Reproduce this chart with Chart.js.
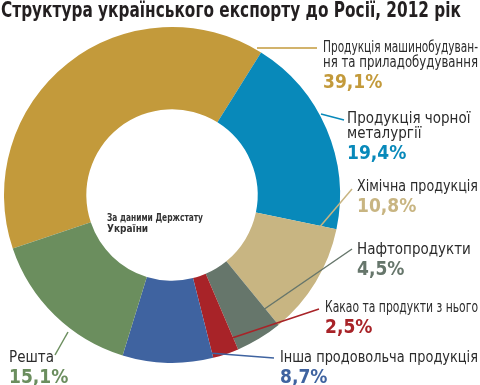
<!DOCTYPE html>
<html lang="uk">
<head>
<meta charset="utf-8">
<title>Структура українського експорту до Росії, 2012 рік</title>
<script src="https://cdn.jsdelivr.net/npm/chart.js@4.4.1/dist/chart.umd.min.js"></script>
<style>
  html, body { margin: 0; padding: 0; background: #fff; }
  #wrap { position: relative; width: 480px; height: 385px; }
</style>
</head>
<body>
<div id="wrap"><canvas id="exportChart" width="480" height="385"></canvas></div>
<script>
// Дані: структура експорту, %
const categories = [
    ['Продукція машинобудуван-', 'ня та приладобудування'],
    ['Продукція чорної', 'металургії'],
    ['Хімічна продукція'],
    ['Нафтопродукти'],
    ['Какао та продукти з нього'],
    ['Інша продовольча продукція'],
    ['Решта']
];
const shares = [39.1, 19.4, 10.8, 4.5, 2.5, 8.7, 15.1];

const colors = ['#c39a3b', '#0889ba', '#c8b582', '#66766b', '#a82328', '#3f63a0', '#6b8e5e'];

// where the labels and leader lines go
const labelSpots = [
    { x: 323, y: 48, line: [[257, 48], [317, 48]] },
    { x: 347, y: 119, line: [[321, 114], [344, 120]] },
    { x: 357, y: 187, line: [[318, 229], [352, 189]] },
    { x: 357, y: 250, line: [[263, 310], [352, 249]] },
    { x: 325, y: 308, line: [[232, 338], [319, 309]] },
    { x: 280, y: 358, line: [[209, 353], [274, 358]] },
    { x: 9, y: 358, line: [[68, 332], [55, 355]] }
];

const narrow = '"Liberation Sans Narrow", "DejaVu Sans Condensed", "Noto Sans", sans-serif';

function pct(v) {
    return v.toFixed(1).replace('.', ',') + '%';
}

const labelsPlugin = {
    id: 'labelsPlugin',
    afterDraw(chart) {
        const ctx = chart.ctx;
        ctx.save();

        // title
        ctx.fillStyle = '#231f20';
        ctx.textBaseline = 'middle';
        ctx.textAlign = 'left';
        ctx.font = 'bold 22px ' + narrow;
        ctx.fillText('Структура українського експорту до Росії, 2012 рік', 1, 11, 460);

        // note in the hole
        ctx.font = 'bold 10px ' + narrow;
        ctx.fillStyle = '#333';
        ctx.fillText('За даними Держстату', 107, 218, 96);
        ctx.fillText('України', 107, 229);

        categories.forEach((lines, i) => {
            const s = labelSpots[i];
            ctx.strokeStyle = colors[i];
            ctx.lineWidth = 1.5;
            ctx.beginPath();
            ctx.moveTo(s.line[0][0], s.line[0][1]);
            ctx.lineTo(s.line[1][0], s.line[1][1]);
            ctx.stroke();

            ctx.fillStyle = '#2b2b2b';
            ctx.font = '15px ' + narrow;
            let y = s.y;
            lines.forEach(t => {
                ctx.fillText(t, s.x, y, 480 - s.x - 2);
                y += 15;
            });
            ctx.fillStyle = colors[i];
            ctx.font = 'bold 19px ' + narrow;
            ctx.fillText(pct(shares[i]), s.x, y + 5);
        });
        ctx.restore();
    }
};

const ctx = document.getElementById('exportChart').getContext('2d');
const exportChart = new Chart(ctx, {
    type: 'doughnut',
    data: {
        labels: categories.map(l => l.join(' ')),
        datasets: [{
            data: shares,
            backgroundColor: colors,
            borderWidth: 0
        }]
    },
    options: {
        responsive: false,
        animation: false,
        rotation: -108.6,
        cutout: '51%',
        layout: {
            padding: { left: 4, top: 27, right: 140, bottom: 22 }
        },
        plugins: {
            legend: { display: false },
            tooltip: { enabled: false }
        }
    },
    plugins: [labelsPlugin]
});
</script>
</body>
</html>
